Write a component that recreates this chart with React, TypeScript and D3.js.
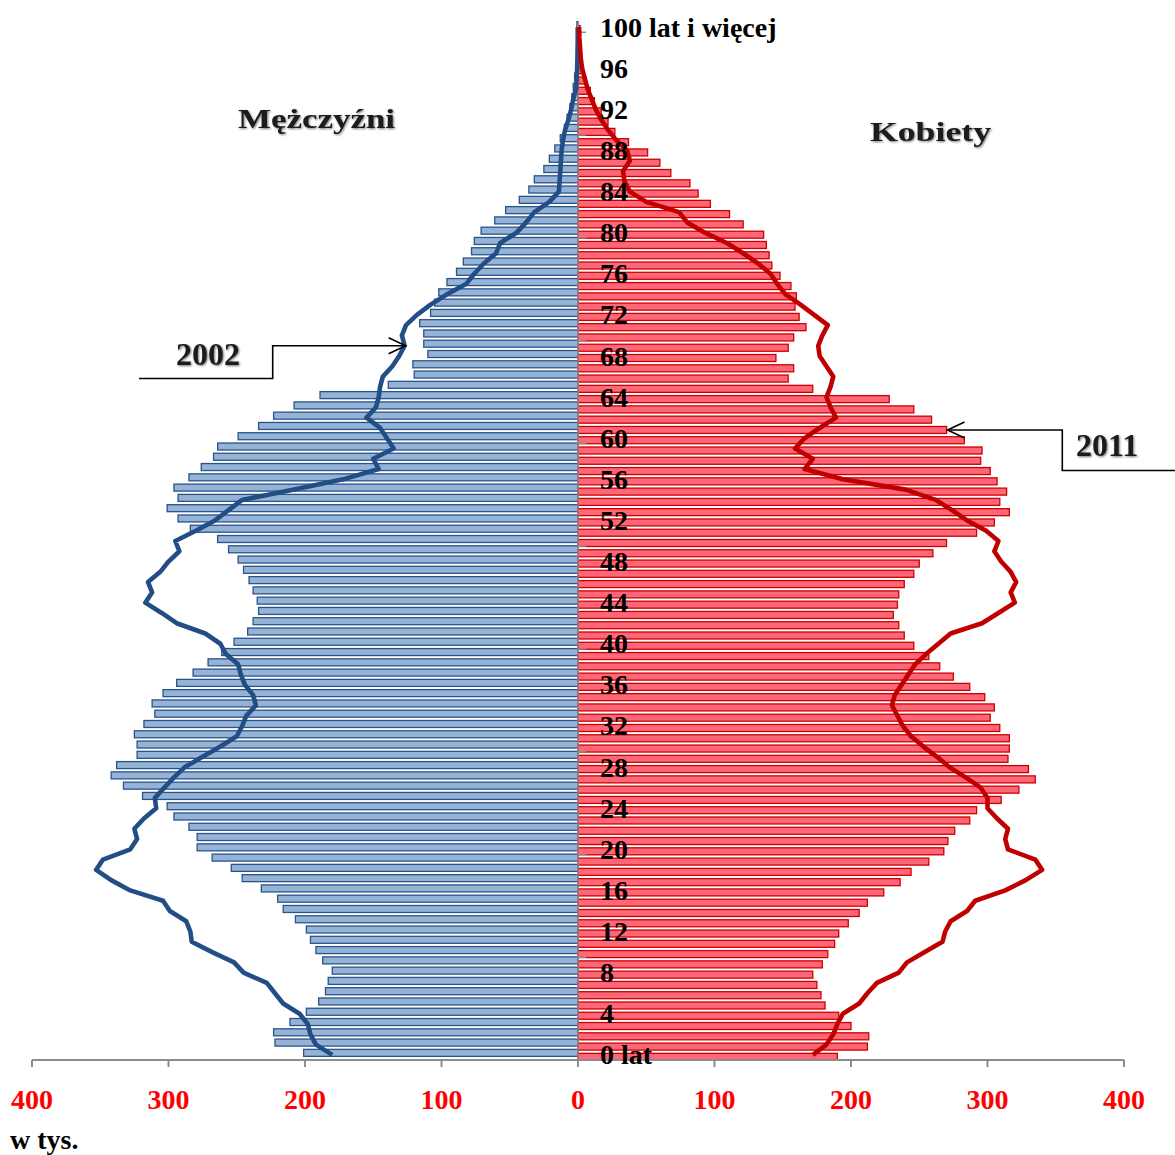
import React from 'react';
import * as d3 from 'd3';

// 2011 population (thousands), index = age 0..100 ("100 lat i więcej")
const males2011 = [
  201, 222, 223, 211, 199, 190, 185, 183, 180, 187,
  192, 196, 199, 207, 216, 220, 232, 246, 254, 268,
  279, 279, 285, 296, 301, 319, 333, 342, 338, 323,
  323, 325, 318, 310, 312, 304, 294, 282, 271, 261,
  252, 242, 238, 234, 235, 238, 241, 245, 249, 256,
  264, 284, 293, 301, 293, 296, 285, 276, 267, 264,
  249, 234, 223, 208, 189, 139, 120, 121, 110, 113,
  113, 116, 108, 105, 102, 96, 89, 84, 78, 76,
  71, 61, 53, 43, 36, 32, 25, 21, 17, 13,
  10, 8, 6, 4.5, 3.5, 2.5, 1.5, 1, 0.7, 0.5,
  0.8,
];

const females2011 = [
  190, 212, 213, 200, 191, 181, 178, 175, 172, 179,
  183, 188, 191, 198, 206, 212, 224, 236, 244, 257,
  268, 271, 276, 287, 292, 310, 323, 335, 330, 315,
  316, 316, 309, 302, 305, 298, 287, 275, 265, 257,
  246, 239, 235, 231, 234, 235, 239, 246, 250, 260,
  270, 292, 305, 316, 309, 314, 307, 302, 295, 296,
  283, 270, 259, 246, 228, 172, 154, 158, 145, 154,
  158, 167, 162, 159, 160, 156, 148, 142, 140, 138,
  136, 121, 111, 97, 88, 82, 68, 60, 51, 37,
  27, 22, 17, 12, 9, 6, 4, 3, 2, 1,
  1.5,
];

// 2002 population (thousands), index = age 0..100
const males2002 = [
  180, 192, 196, 198, 204, 216, 222, 228, 245, 252,
  268, 283, 284, 287, 299, 304, 328, 342, 353, 348,
  328, 323, 325, 318, 309, 310, 303, 296, 288, 275,
  262, 250, 246, 243, 236, 238, 244, 247, 249, 258,
  262, 273, 294, 305, 317, 312, 315, 306, 300, 292,
  295, 280, 266, 256, 246, 208, 172, 146, 150, 135,
  140, 145, 155, 148, 146, 145, 143, 136, 131, 127,
  129, 126, 118, 108, 96, 82, 76, 69, 60, 57,
  45, 38, 32, 21, 14, 13.5, 13, 12.5, 12, 11,
  9.5, 7, 5, 3.5, 1.5, 1, 0.6, 0.4, 0.3, 0.2,
  0.2,
];

const females2002 = [
  172, 182, 187, 190, 194, 206, 212, 219, 235, 241,
  254, 267, 269, 273, 285, 291, 313, 328, 340, 335,
  315, 313, 315, 307, 300, 300, 295, 284, 272, 263,
  253, 244, 238, 234, 230, 232, 237, 242, 247, 255,
  264, 273, 296, 308, 320, 317, 321, 317, 310, 305,
  308, 299, 285, 274, 262, 240, 194, 166, 172, 159,
  166, 177, 189, 185, 182, 185, 187, 182, 177, 176,
  179, 183, 173, 163, 152, 146, 141, 132, 121, 109,
  93, 80, 74, 50, 38, 34, 33, 38, 36, 28,
  22, 17, 13, 10, 7, 5, 3, 2, 1.5, 1,
  0.8,
];

const ageTickValues = [0, 4, 8, 12, 16, 20, 24, 28, 32, 36, 40, 44, 48, 52, 56, 60, 64, 68, 72, 76, 80, 84, 88, 92, 96, 100];
const ageTickLabels = ['0 lat', '4', '8', '12', '16', '20', '24', '28', '32', '36', '40', '44', '48', '52', '56', '60', '64', '68', '72', '76', '80', '84', '88', '92', '96', '100 lat i więcej'];
const ageMinorTicks = [0, 10, 20, 30, 40, 50, 60, 70, 80, 90, 100];
const xTickValues = [-400, -300, -200, -100, 0, 100, 200, 300, 400];
const xTickLabels = ['400', '300', '200', '100', '0', '100', '200', '300', '400'];

const W = 1175;
const H = 1155;
const SERIF = '"Liberation Serif", "Times New Roman", serif';

export default function App() {
  const ages = males2011.map((_, i) => i);
  const x = d3.scaleLinear().domain([-400, 400]).range([32, 1124]);
  const y = d3
    .scaleBand<number>()
    .domain([...ages].reverse())
    .range([22, 1060])
    .paddingInner(0)
    .paddingOuter(0);
  const bw = y.bandwidth();
  const yc = (a: number) => (y(a) as number) + bw / 2;
  const barH = 7;
  const mOff = -2;
  const fOff = 2;
  const x0 = x(0);
  const axisY = 1060;

  const maleLine = d3
    .line<number>()
    .x((v) => x(-v))
    .y((_, i) => yc(i));
  const femaleLine = d3
    .line<number>()
    .x((v) => x(v))
    .y((_, i) => yc(i));

  // callout tips anchored to data
  const tip2002 = { x: x(-males2002[69]) + 1, y: yc(69) };
  const tip2011 = { x: x(females2011[61]) + 1, y: yc(61) + fOff };

  return (
    <svg
      width={W}
      height={H}
      style={{ position: 'absolute', left: 0, top: 0, background: '#fff' }}
      fontFamily={SERIF}
    >
      <defs>
        <filter id="soft" x="-20%" y="-30%" width="140%" height="160%">
          <feGaussianBlur in="SourceAlpha" stdDeviation="1.2" result="b" />
          <feOffset in="b" dx="1" dy="1" result="o" />
          <feComponentTransfer in="o" result="s">
            <feFuncA type="linear" slope="0.55" />
          </feComponentTransfer>
          <feMerge>
            <feMergeNode in="s" />
            <feMergeNode in="SourceGraphic" />
          </feMerge>
        </filter>
      </defs>

      {/* male bars */}
      <g>
        {males2011.map((v, i) => (
          <rect
            key={'m' + i}
            x={x(-v)}
            y={yc(i) + mOff - barH / 2}
            width={x0 - x(-v)}
            height={barH}
            fill="#95B3D7"
            stroke="#2A538A"
            strokeWidth={1.3}
          />
        ))}
      </g>
      {/* female bars */}
      <g>
        {females2011.map((v, i) => (
          <rect
            key={'f' + i}
            x={x0}
            y={yc(i) + fOff - barH / 2}
            width={x(v) - x0}
            height={barH}
            fill="#FF6677"
            stroke="#CC0000"
            strokeWidth={1.3}
          />
        ))}
      </g>

      {/* vertical center axis */}
      <line x1={x0} x2={x0} y1={22} y2={axisY} stroke="#8c8c8c" strokeWidth={1.5} />
      {ageMinorTicks.map((a) => (
        <line
          key={'mt' + a}
          x1={x0}
          x2={x0 + 8}
          y1={(y(a) as number) + bw}
          y2={(y(a) as number) + bw}
          stroke="#8c8c8c"
          strokeWidth={1.5}
        />
      ))}

      {/* 2002 lines */}
      <path d={maleLine(males2002) || ''} fill="none" stroke="#234E85" strokeWidth={4.6} strokeLinejoin="round" />
      <path d={femaleLine(females2002) || ''} fill="none" stroke="#C00000" strokeWidth={4.6} strokeLinejoin="round" />

      {/* x axis */}
      <line x1={x(-400)} x2={x(400)} y1={axisY} y2={axisY} stroke="#8c8c8c" strokeWidth={2} />
      {xTickValues.map((t, i) => (
        <g key={'xt' + t}>
          <line x1={x(t)} x2={x(t)} y1={axisY} y2={axisY + 7} stroke="#8c8c8c" strokeWidth={2} />
          <text
            x={x(t)}
            y={1109}
            textAnchor="middle"
            fontSize={28}
            fontWeight="bold"
            fill="#FF0000"
          >
            {xTickLabels[i]}
          </text>
        </g>
      ))}
      <text x={10} y={1149} fontSize={28} fontWeight="bold" fill="#000">
        w tys.
      </text>

      {/* age labels */}
      {ageTickValues.map((a, i) => (
        <text
          key={'al' + a}
          x={600}
          y={yc(a) + 9.5}
          fontSize={28}
          fontWeight="bold"
          fill="#000"
        >
          {ageTickLabels[i]}
        </text>
      ))}

      {/* titles */}
      <text
        x={238}
        y={128}
        fontSize={27}
        fontWeight="bold"
        fill="#1a1a1a"
        textLength={157}
        lengthAdjust="spacingAndGlyphs"
        filter="url(#soft)"
      >
        Mężczyźni
      </text>
      <text
        x={870}
        y={141}
        fontSize={27}
        fontWeight="bold"
        fill="#1a1a1a"
        textLength={121}
        lengthAdjust="spacingAndGlyphs"
        filter="url(#soft)"
      >
        Kobiety
      </text>

      {/* callouts */}
      <text x={176} y={365} fontSize={32} fontWeight="bold" fill="#1a1a1a" filter="url(#soft)">
        2002
      </text>
      <path
        d={`M139,378.5 H272.7 V${tip2002.y} H${tip2002.x}`}
        fill="none"
        stroke="#000"
        strokeWidth={1.6}
      />
      <path
        d={`M${tip2002.x - 17},${tip2002.y - 8} L${tip2002.x},${tip2002.y} L${tip2002.x - 17},${tip2002.y + 8}`}
        fill="none"
        stroke="#000"
        strokeWidth={1.6}
      />
      <text x={1076} y={456} fontSize={32} fontWeight="bold" fill="#1a1a1a" filter="url(#soft)">
        2011
      </text>
      <path
        d={`M1175,470.5 H1062.3 V${tip2011.y} H${tip2011.x}`}
        fill="none"
        stroke="#000"
        strokeWidth={1.6}
      />
      <path
        d={`M${tip2011.x + 17},${tip2011.y - 8} L${tip2011.x},${tip2011.y} L${tip2011.x + 17},${tip2011.y + 8}`}
        fill="none"
        stroke="#000"
        strokeWidth={1.6}
      />
    </svg>
  );
}
